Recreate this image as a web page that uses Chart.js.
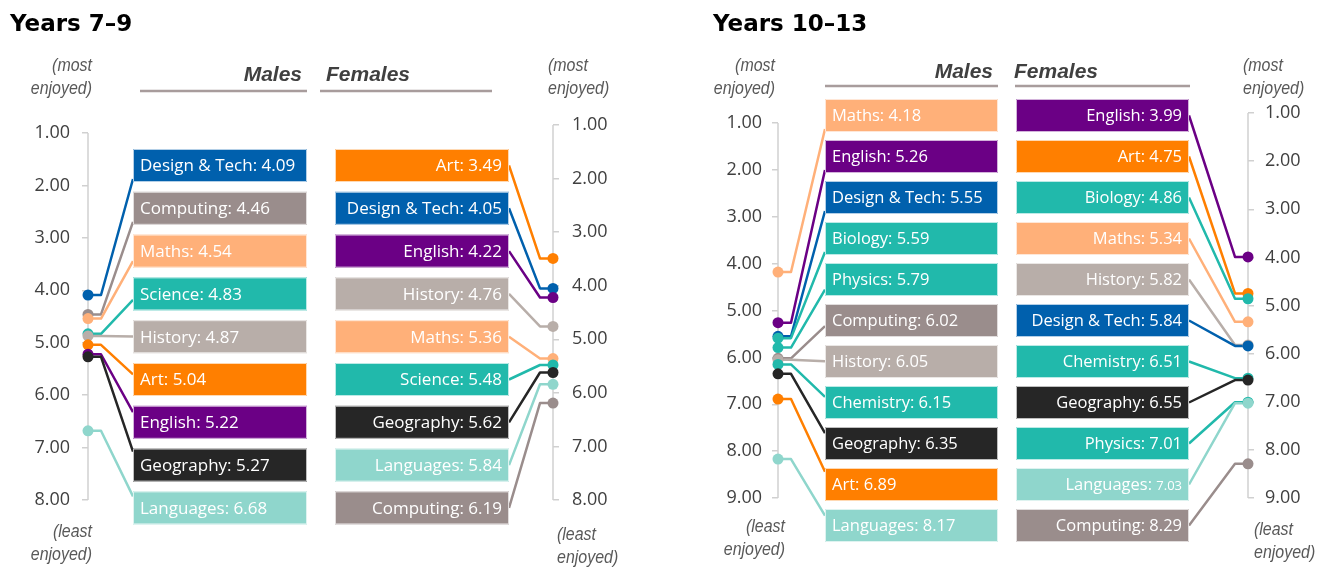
<!DOCTYPE html>
<html>
<head>
<meta charset="utf-8">
<script src="https://cdn.jsdelivr.net/npm/chart.js@4.4.1/dist/chart.umd.min.js"></script>
<style>
  html, body { margin: 0; padding: 0; background: #fff; }
  #wrap { position: relative; width: 1338px; height: 570px; }
  .panel { position: absolute; top: 0; width: 669px; height: 570px; }
</style>
</head>
<body>
<div id="wrap">
  <div class="panel" style="left:0"><canvas id="junior" width="669" height="570"></canvas></div>
  <div class="panel" style="left:669px"><canvas id="senior" width="669" height="570"></canvas></div>
</div>
<script>
// Years 7-9, ranked from most to least enjoyed (lower score = more enjoyed)
var juniorMaleSubjects = ['Design & Tech', 'Computing', 'Maths', 'Science', 'History', 'Art', 'English', 'Geography', 'Languages'];
var juniorMaleScores = [4.09, 4.46, 4.54, 4.83, 4.87, 5.04, 5.22, 5.27, 6.68];
var juniorFemaleSubjects = ['Art', 'Design & Tech', 'English', 'History', 'Maths', 'Science', 'Geography', 'Languages', 'Computing'];
var juniorFemaleScores = [3.49, 4.05, 4.22, 4.76, 5.36, 5.48, 5.62, 5.84, 6.19];
var juniorTicks = [1, 2, 3, 4, 5, 6, 7, 8];

// Years 10-13
var seniorMaleSubjects = ['Maths', 'English', 'Design & Tech', 'Biology', 'Physics', 'Computing', 'History', 'Chemistry', 'Geography', 'Art', 'Languages'];
var seniorMaleScores = [4.18, 5.26, 5.55, 5.59, 5.79, 6.02, 6.05, 6.15, 6.35, 6.89, 8.17];
var seniorFemaleSubjects = ['English', 'Art', 'Biology', 'Maths', 'History', 'Design & Tech', 'Chemistry', 'Geography', 'Physics', 'Languages', 'Computing'];
var seniorFemaleScores = [3.99, 4.75, 4.86, 5.34, 5.82, 5.84, 6.51, 6.55, 7.01, 7.03, 8.29];
var seniorTicks = [1, 2, 3, 4, 5, 6, 7, 8, 9];

var subjectColours = {
  'Design & Tech': '#0060ad',
  'Computing': '#9a8d8c',
  'Maths': '#ffb079',
  'Science': '#21b9ab',
  'Biology': '#21b9ab',
  'Physics': '#21b9ab',
  'Chemistry': '#21b9ab',
  'History': '#b8aea9',
  'Art': '#ff7f00',
  'English': '#6b0085',
  'Geography': '#262626',
  'Languages': '#8fd6cc'
};

var AREA_TOP = 100, AREA_BOTTOM = 530;
var TICK_FONT = { family: 'Open Sans', size: 18 };
var ITALIC = 'italic 19px "Liberation Sans"';

// min/max so that value v1 lands on pixel p1 and v2 on pixel p2 (reversed axis)
function fitRange(v1, p1, v2, p2) {
  var per = (p2 - p1) / (v2 - v1);
  return { min: v1 - (p1 - AREA_TOP) / per, max: v2 + (AREA_BOTTOM - p2) / per };
}

function yScale(pos, range, ticks, width, pad) {
  return {
    type: 'linear',
    position: pos,
    reverse: true,
    min: range.min,
    max: range.max,
    afterBuildTicks: function (s) { s.ticks = ticks.map(function (v) { return { value: v }; }); },
    afterFit: function (s) { s.width = width; },
    border: { display: false },
    grid: { drawOnChartArea: false, drawTicks: true, tickLength: 6, color: '#d0d0d0', lineWidth: 1.5 },
    ticks: {
      padding: pad,
      color: '#404040',
      font: TICK_FONT,
      autoSkip: false,
      callback: function (v) { return v.toFixed(2); }
    }
  };
}

// condensed italic text (narrow face is not installed, so squeeze horizontally)
function narrowText(ctx, text, x, y, align) {
  ctx.save();
  ctx.translate(x, y);
  ctx.scale(0.84, 1);
  ctx.textAlign = align;
  ctx.fillText(text, 0, 0);
  ctx.restore();
}

var panelPlugin = {
  id: 'panel',
  beforeDatasetsDraw: function (chart) {
    var L = chart.options.plugins.panel;
    var ctx = chart.ctx, ca = chart.chartArea;
    var yM = chart.scales.yM, yF = chart.scales.yF;
    var boxFont = L.boxFontSize + 'px "Open Sans"';
    ctx.save();

    // axis lines from first to last tick
    ctx.strokeStyle = '#d0d0d0';
    ctx.lineWidth = 1.5;
    [[yM, ca.left], [yF, ca.right]].forEach(function (a) {
      var t = a[0].ticks;
      ctx.beginPath();
      ctx.moveTo(a[1], a[0].getPixelForValue(t[0].value));
      ctx.lineTo(a[1], a[0].getPixelForValue(t[t.length - 1].value));
      ctx.stroke();
    });

    function drawSide(subjects, scores, scale, isMale) {
      subjects.forEach(function (s, i) {
        var col = subjectColours[s];
        var top = L.boxTop + i * L.boxStep;
        var mid = top + L.boxH / 2;
        var yv = scale.getPixelForValue(scores[i]);
        ctx.strokeStyle = col;
        ctx.lineWidth = 2.5;
        ctx.lineJoin = 'round';
        ctx.beginPath();
        if (isMale) {
          var anchor = Math.max(top + 3, Math.min(top + L.boxH - 3, mid + 0.15 * (yv - mid)));
          ctx.moveTo(ca.left, yv);
          ctx.lineTo(ca.left + 13, yv);
          ctx.lineTo(L.maleBoxX, anchor);
        } else {
          ctx.moveTo(L.femaleBoxX + L.boxW, mid);
          ctx.lineTo(ca.right - 13, yv);
          ctx.lineTo(ca.right, yv);
        }
        ctx.stroke();

        var bx = isMale ? L.maleBoxX : L.femaleBoxX;
        ctx.fillStyle = col;
        ctx.fillRect(bx, top, L.boxW, L.boxH);
        ctx.strokeStyle = 'rgba(255,255,255,0.7)';
        ctx.lineWidth = 1;
        ctx.strokeRect(bx + 0.5, top + 0.5, L.boxW - 1, L.boxH - 1);

        ctx.fillStyle = '#fff';
        ctx.textBaseline = 'middle';
        var num = scores[i].toFixed(2);
        if (isMale) {
          ctx.textAlign = 'left';
          ctx.font = boxFont;
          ctx.fillText(s + ': ' + num, bx + 7, mid + 1);
        } else if (L.smallValue === s) {
          ctx.textAlign = 'right';
          ctx.font = '13px "Open Sans"';
          var w = ctx.measureText(num).width;
          ctx.fillText(num, bx + L.boxW - 7, mid + 2);
          ctx.font = boxFont;
          ctx.fillText(s + ': ', bx + L.boxW - 7 - w, mid + 1);
        } else {
          ctx.textAlign = 'right';
          ctx.font = boxFont;
          ctx.fillText(s + ': ' + num, bx + L.boxW - 7, mid + 1);
        }
      });
    }
    drawSide(L.maleSubjects, L.maleScores, yM, true);
    drawSide(L.femaleSubjects, L.femaleScores, yF, false);
    ctx.restore();
  },
  afterDraw: function (chart) {
    var L = chart.options.plugins.panel;
    var ctx = chart.ctx;
    ctx.save();
    ctx.textBaseline = 'middle';
    ctx.fillStyle = '#000';
    ctx.textAlign = 'left';
    ctx.font = 'bold 23px "DejaVu Sans"';
    ctx.fillText(L.title, L.titleX, 25);

    ctx.fillStyle = '#404040';
    ctx.font = 'italic bold 21px "Liberation Sans"';
    ctx.textAlign = 'right';
    ctx.fillText('Males', L.malesX, L.headY);
    ctx.textAlign = 'left';
    ctx.fillText('Females', L.femalesX, L.headY);

    ctx.strokeStyle = '#a89c9c';
    ctx.lineWidth = 2.5;
    ctx.beginPath();
    ctx.moveTo(L.ulMale[0], L.ulY); ctx.lineTo(L.ulMale[1], L.ulY);
    ctx.moveTo(L.ulFemale[0], L.ulY); ctx.lineTo(L.ulFemale[1], L.ulY);
    ctx.stroke();

    ctx.fillStyle = '#595959';
    ctx.font = ITALIC;
    L.notes.forEach(function (n) {
      narrowText(ctx, n.lines[0], n.x, n.y, n.align);
      narrowText(ctx, n.lines[1], n.x, n.y + 23, n.align);
    });
    ctx.restore();
  }
};

function makePanel(id, cfg) {
  var dot = function (subjects, scores, side, axis) {
    return {
      data: scores.map(function (v) { return { x: side, y: v }; }),
      yAxisID: axis,
      pointBackgroundColor: subjects.map(function (s) { return subjectColours[s]; }),
      pointBorderWidth: 0,
      pointRadius: 5.5,
      clip: false
    };
  };
  return new Chart(document.getElementById(id), {
    type: 'scatter',
    data: {
      datasets: [
        dot(cfg.maleSubjects, cfg.maleScores, 0, 'yM'),
        dot(cfg.femaleSubjects, cfg.femaleScores, 1, 'yF')
      ]
    },
    options: {
      responsive: false,
      animation: false,
      devicePixelRatio: 1,
      layout: { padding: { top: AREA_TOP, bottom: 570 - AREA_BOTTOM, left: 0, right: 0 } },
      scales: {
        x: { type: 'linear', min: 0, max: 1, display: false },
        yM: yScale('left', cfg.maleRange, cfg.ticks, cfg.leftAxisX, cfg.padL),
        yF: yScale('right', cfg.femaleRange, cfg.ticks, 669 - cfg.rightAxisX, cfg.padR)
      },
      plugins: {
        legend: { display: false },
        tooltip: { enabled: false },
        panel: cfg
      }
    },
    plugins: [panelPlugin]
  });
}

makePanel('junior', {
  title: 'Years 7\u20139', titleX: 10,
  maleSubjects: juniorMaleSubjects, maleScores: juniorMaleScores,
  femaleSubjects: juniorFemaleSubjects, femaleScores: juniorFemaleScores,
  ticks: juniorTicks,
  maleRange: fitRange(1, 133, 8, 500),
  femaleRange: fitRange(1, 125, 8, 500),
  leftAxisX: 88, rightAxisX: 553, padL: 12, padR: 13,
  maleBoxX: 133, femaleBoxX: 335, boxW: 174, boxTop: 149, boxStep: 42.8, boxH: 33, boxFontSize: 17,
  malesX: 302, femalesX: 326, headY: 75,
  ulY: 91, ulMale: [140, 307], ulFemale: [320, 492],
  notes: [
    { lines: ['(most', 'enjoyed)'], x: 92, y: 66, align: 'right' },
    { lines: ['(most', 'enjoyed)'], x: 548, y: 66, align: 'left' },
    { lines: ['(least', 'enjoyed)'], x: 92, y: 532, align: 'right' },
    { lines: ['(least', 'enjoyed)'], x: 557, y: 535, align: 'left' }
  ]
});

makePanel('senior', {
  title: 'Years 10\u201313', titleX: 44,
  maleSubjects: seniorMaleSubjects, maleScores: seniorMaleScores,
  femaleSubjects: seniorFemaleSubjects, femaleScores: seniorFemaleScores,
  ticks: seniorTicks,
  maleRange: fitRange(1, 123, 9, 498),
  femaleRange: fitRange(1, 113, 9, 498),
  leftAxisX: 109, rightAxisX: 579, padL: 10, padR: 11,
  maleBoxX: 156, femaleBoxX: 347, boxW: 173, boxTop: 99, boxStep: 41, boxH: 33, boxFontSize: 16.5,
  smallValue: 'Languages',
  malesX: 324, femalesX: 345, headY: 72,
  ulY: 86, ulMale: [156, 329], ulFemale: [346, 521],
  notes: [
    { lines: ['(most', 'enjoyed)'], x: 106, y: 66, align: 'right' },
    { lines: ['(most', 'enjoyed)'], x: 574, y: 66, align: 'left' },
    { lines: ['(least', 'enjoyed)'], x: 116, y: 527, align: 'right' },
    { lines: ['(least', 'enjoyed)'], x: 585, y: 530, align: 'left' }
  ]
});
</script>
</body>
</html>
